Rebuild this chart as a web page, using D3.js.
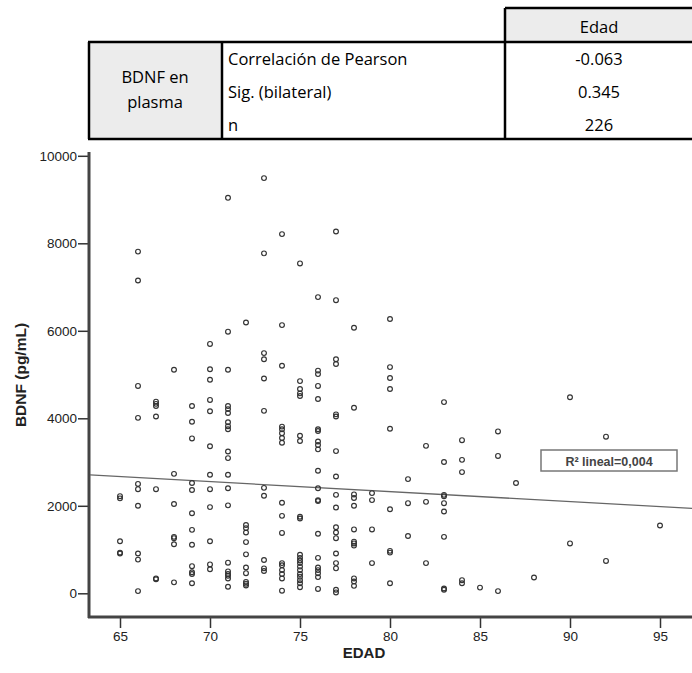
<!DOCTYPE html>
<html>
  <head>
    <meta charset="utf-8">
    <title>BDNF vs edad</title>
    <style>
      html, body {
        padding: 0;
        margin: 0;
        background: #fff;
      }
      svg {
        display: block;
      }
    </style>
  </head>
<body>

<svg id="chart" width="692" height="673"></svg>

<script src="https://cdn.jsdelivr.net/npm/d3@7"></script>
<script>

// correlation table
const tableHeader = "Edad";
const rowGroup = ["BDNF en", "plasma"];
const rowLabels = ["Correlación de Pearson", "Sig. (bilateral)", "n"];
const rowValues = ["-0.063", "0.345", "226"];

// scatter: BDNF values (pg/mL) observed at each age
const ages = [65, 66, 67, 68, 69, 70, 71, 72, 73, 74, 75, 76, 77, 78, 79, 80,
              81, 82, 83, 84, 85, 86, 87, 88, 90, 92, 95];
const bdnfByAge = [
  [2220, 2170, 1190, 930, 910],
  [7810, 7150, 4740, 4010, 2500, 2380, 2000, 910, 770, 50],
  [4380, 4330, 4280, 4040, 2380, 340, 320],
  [5110, 2730, 2040, 1290, 1260, 1120, 250],
  [4280, 3920, 3540, 2520, 2360, 1830, 1450, 1110, 620, 480, 440, 230],
  [5700, 5120, 4880, 4420, 4160, 3360, 2710, 2380, 1970, 1190, 660, 550],
  [9040, 5980, 5110, 4280, 4210, 4120, 3910, 3820, 3750, 3240, 3090, 2710,
   2400, 2010, 700, 500, 440, 400, 340, 150],
  [6190, 1560, 1490, 1390, 1170, 890, 590, 460, 260, 220, 180],
  [9490, 7770, 5490, 5350, 4910, 4170, 2410, 2230, 760, 570, 510],
  [8210, 6130, 5200, 3810, 3750, 3660, 3550, 3440, 2070, 1770, 1380, 690,
   640, 530, 440, 340, 60],
  [7540, 4850, 4670, 4570, 4510, 3600, 3480, 1750, 1710, 880, 810, 750, 690,
   610, 530, 440, 380, 300, 230, 140],
  [6770, 5090, 5010, 4740, 4440, 3750, 3710, 3470, 3390, 3290, 2800, 2400,
   2130, 2110, 1360, 810, 590, 530, 460, 370, 100],
  [8270, 6700, 5350, 5240, 4090, 4040, 3250, 2670, 2250, 1960, 1510, 1390,
   1260, 910, 690, 570, 80, 20],
  [6070, 4240, 2260, 2180, 2000, 1460, 1180, 1140, 1090, 340, 270, 170],
  [2290, 2130, 1460, 690],
  [6270, 5170, 4920, 4670, 3760, 1920, 970, 930, 230],
  [2610, 2060, 1310],
  [3370, 2090, 690],
  [4370, 3000, 2250, 2220, 2060, 1870, 1290, 110, 80],
  [3500, 3050, 2770, 300, 230],
  [130],
  [3700, 3140, 50],
  [2520],
  [360],
  [4480, 1140],
  [3580, 740],
  [1550]
];

// fitted line (lineal), read at the ends of the x axis
const fitEdad = [63.3, 96.8];
const fitBdnf = [2707, 1940];
const fitLabel = "R² lineal=0,004";

const xTicks = [65, 70, 75, 80, 85, 90, 95];
const yTicks = [0, 2000, 4000, 6000, 8000, 10000];

const svg = d3.select('#chart');

// ---------- table ----------
const tbl = svg.append('g')
               .style('font-family', '"Open Sans", sans-serif')
               .style('font-size', '16.5px')
               .style('fill', '#000');

tbl.append('rect')
   .attr('x', 505).attr('y', 8).attr('width', 190).attr('height', 34)
   .style('fill', '#ececec');
tbl.append('rect')
   .attr('x', 88).attr('y', 42).attr('width', 134).attr('height', 97)
   .style('fill', '#ececec');

const tLines = [
  [505, 8, 695, 8],
  [88, 42, 695, 42],
  [88, 139, 695, 139],
  [89, 42, 89, 139],
  [222, 42, 222, 139],
  [505, 8, 505, 139]
];
tbl.selectAll('line')
   .data(tLines)
   .enter()
   .append('line')
   .attr('x1', d => d[0]).attr('y1', d => d[1])
   .attr('x2', d => d[2]).attr('y2', d => d[3])
   .style('stroke', '#000')
   .style('stroke-width', 2.5);

tbl.append('text')
   .attr('x', 599).attr('y', 33)
   .attr('text-anchor', 'middle')
   .text(tableHeader);

tbl.selectAll('.grp')
   .data(rowGroup)
   .enter()
   .append('text')
   .attr('class', 'grp')
   .attr('x', 155)
   .attr('y', (d, i) => 83 + i * 25)
   .attr('text-anchor', 'middle')
   .text(d => d);

tbl.selectAll('.lab')
   .data(rowLabels)
   .enter()
   .append('text')
   .attr('class', 'lab')
   .attr('x', 228)
   .attr('y', (d, i) => 65 + i * 33)
   .text(d => d);

tbl.selectAll('.val')
   .data(rowValues)
   .enter()
   .append('text')
   .attr('class', 'val')
   .attr('x', 599)
   .attr('y', (d, i) => 65 + i * 33)
   .attr('text-anchor', 'middle')
   .text(d => d);

// ---------- scatter ----------
const x = d3.scaleLinear().domain([65, 95]).range([120, 660]);
const y = d3.scaleLinear().domain([0, 10000]).range([593.3, 155.8]);

const points = [];
ages.forEach((a, i) => bdnfByAge[i].forEach(v => points.push({edad: a, bdnf: v})));

const plot = svg.append('g');

plot.append('clipPath').attr('id', 'clip')
    .append('rect').attr('x', 90).attr('y', 150).attr('width', 602).attr('height', 466);

// y axis
const yAxis = plot.append('g')
    .attr('transform', 'translate(88,0)')
    .call(d3.axisLeft(y).tickValues(yTicks).tickSize(10).tickPadding(1).tickFormat(d3.format('d')));
// x axis
const xAxis = plot.append('g')
    .attr('transform', 'translate(0,618)')
    .call(d3.axisBottom(x).tickValues(xTicks).tickSize(10).tickPadding(3));

[yAxis, xAxis].forEach(ax => {
  ax.select('.domain').remove();
  ax.selectAll('.tick line').style('stroke', '#333').style('stroke-width', 1.5);
  ax.selectAll('.tick text')
    .style('font-family', '"Liberation Sans", Arial, sans-serif')
    .style('font-size', '13.5px')
    .style('fill', '#222');
});

plot.append('line')
    .attr('x1', 89).attr('y1', 152).attr('x2', 89).attr('y2', 618)
    .style('stroke', '#444').style('stroke-width', 3);
plot.append('line')
    .attr('x1', 88).attr('y1', 617).attr('x2', 692).attr('y2', 617)
    .style('stroke', '#444').style('stroke-width', 3);

// fit line
plot.append('line')
    .attr('clip-path', 'url(#clip)')
    .attr('x1', x(fitEdad[0])).attr('y1', y(fitBdnf[0]))
    .attr('x2', x(fitEdad[1])).attr('y2', y(fitBdnf[1]))
    .style('stroke', '#666')
    .style('stroke-width', 1.3);

plot.selectAll('circle')
    .data(points)
    .enter()
    .append('circle')
    .attr('cx', d => x(d.edad))
    .attr('cy', d => y(d.bdnf))
    .attr('r', 2.4)
    .style('fill', 'none')
    .style('stroke', '#333')
    .style('stroke-width', 1.15);

// R² box
plot.append('rect')
    .attr('x', 541).attr('y', 450).attr('width', 136).attr('height', 21)
    .style('fill', '#fff')
    .style('stroke', '#777')
    .style('stroke-width', 1.5);
plot.append('text')
    .attr('x', 609).attr('y', 465.5)
    .attr('text-anchor', 'middle')
    .style('font-family', '"Liberation Sans", Arial, sans-serif')
    .style('font-weight', 'bold')
    .style('font-size', '12.5px')
    .style('fill', '#444')
    .text(fitLabel);

// axis titles
plot.append('text')
    .attr('x', 364).attr('y', 658)
    .attr('text-anchor', 'middle')
    .style('font-family', '"Liberation Sans", Arial, sans-serif')
    .style('font-weight', 'bold')
    .style('font-size', '15px')
    .style('fill', '#222')
    .text('EDAD');

plot.append('text')
    .attr('transform', 'translate(26,375) rotate(-90)')
    .attr('text-anchor', 'middle')
    .style('font-family', '"Liberation Sans", Arial, sans-serif')
    .style('font-weight', 'bold')
    .style('font-size', '15.5px')
    .style('fill', '#222')
    .text('BDNF (pg/mL)');

</script>

</body>
</html>
